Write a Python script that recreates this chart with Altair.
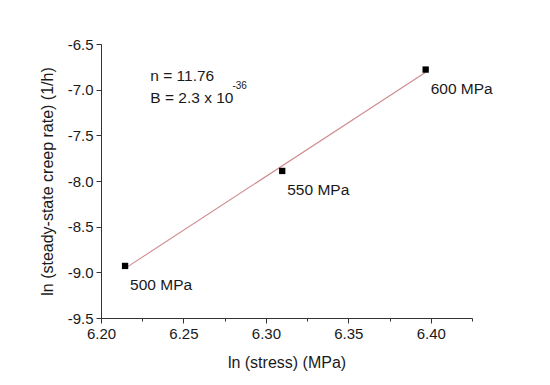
import altair as alt
import pandas as pd

# data
stress_mpa = [500, 550, 600]
ln_stress = [6.2146, 6.3099, 6.3969]
ln_rate = [-8.93, -7.89, -6.78]
labels = ["500 MPa", "550 MPa", "600 MPa"]

x_ticks = [6.20, 6.225, 6.25, 6.275, 6.30, 6.325, 6.35, 6.375, 6.40, 6.425]
y_ticks = [-6.5, -6.75, -7.0, -7.25, -7.5, -7.75, -8.0, -8.25, -8.5, -8.75,
           -9.0, -9.25, -9.5]

ann_text = ["n = 11.76", "B = 2.3 x 10"]
ann_x = [6.2299, 6.2299]
ann_y = [-6.90, -7.142]
sup_text = ["-36"]
sup_x = [6.2797]
sup_y = [-6.99]

df = pd.DataFrame({"x": ln_stress, "y": ln_rate, "label": labels, "stress": stress_mpa})
ann = pd.DataFrame({"x": ann_x, "y": ann_y, "t": ann_text})
sup = pd.DataFrame({"x": sup_x, "y": sup_y, "t": sup_text})

FONT = "Liberation Sans"

xscale = alt.Scale(domain=[6.2, 6.425], nice=False, zero=False)
yscale = alt.Scale(domain=[-9.5, -6.5], nice=False, zero=False)

xaxis = alt.Axis(
    values=x_ticks,
    labelExpr="abs(datum.value*20 - round(datum.value*20)) > 0.1 ? '' : format(datum.value, '.2f')",
    tickSize={"condition": {"test": "abs(datum.value*20 - round(datum.value*20)) > 0.1", "value": 3}, "value": 5},
    labelFontSize=15, labelFont=FONT, labelColor="#1a1a1a", labelPadding=3,
    titleFontSize=16, titleFont=FONT, titleFontWeight="normal", titleColor="#1a1a1a",
    titlePadding=13, grid=False, domainColor="#333333", tickColor="#333333",
    labelFlush=False, labelOverlap=False,
)
yaxis = alt.Axis(
    values=y_ticks,
    labelExpr="abs(datum.value*2 - round(datum.value*2)) > 0.1 ? '' : replace(format(datum.value, '.1f'), '\u2212', '-')",
    tickSize={"condition": {"test": "abs(datum.value*2 - round(datum.value*2)) > 0.1", "value": 3}, "value": 5},
    labelFontSize=15, labelFont=FONT, labelColor="#1a1a1a", labelPadding=3,
    titleFontSize=16, titleFont=FONT, titleFontWeight="normal", titleColor="#1a1a1a",
    titlePadding=12, grid=False, domainColor="#333333", tickColor="#333333",
    labelFlush=False, labelOverlap=False,
)

base = alt.Chart(df)

fit = base.transform_regression("x", "y").mark_line(
    color="#cf8a8e", strokeWidth=1.1
).encode(
    x=alt.X("x:Q", scale=xscale, axis=xaxis, title="ln (stress) (MPa)"),
    y=alt.Y("y:Q", scale=yscale, axis=yaxis, title="ln (steady-state creep rate) (1/h)"),
)

pts = base.mark_square(size=40, color="black", opacity=1).encode(
    x="x:Q", y="y:Q"
)

lbl = base.mark_text(
    align="left", baseline="middle", dx=5, dy=19, fontSize=15.5, font=FONT, color="#1a1a1a"
).encode(x="x:Q", y="y:Q", text="label:N")

ann_layer = alt.Chart(ann).mark_text(
    align="left", baseline="alphabetic", fontSize=15.5, font=FONT, color="#1a1a1a"
).encode(x="x:Q", y="y:Q", text="t:N")

sup_layer = alt.Chart(sup).mark_text(
    align="left", baseline="alphabetic", fontSize=10, font=FONT, color="#1a1a1a"
).encode(x="x:Q", y="y:Q", text="t:N")

chart = alt.layer(fit, pts, lbl, ann_layer, sup_layer).properties(
    width=371, height=274,
    autosize=alt.AutoSizeParams(type="none"),
    padding={"left": 93, "top": 36, "right": 70, "bottom": 58},
    background="white",
).configure_view(stroke=None)

chart.save("out.html", embed_options={"renderer": "svg", "actions": False})
